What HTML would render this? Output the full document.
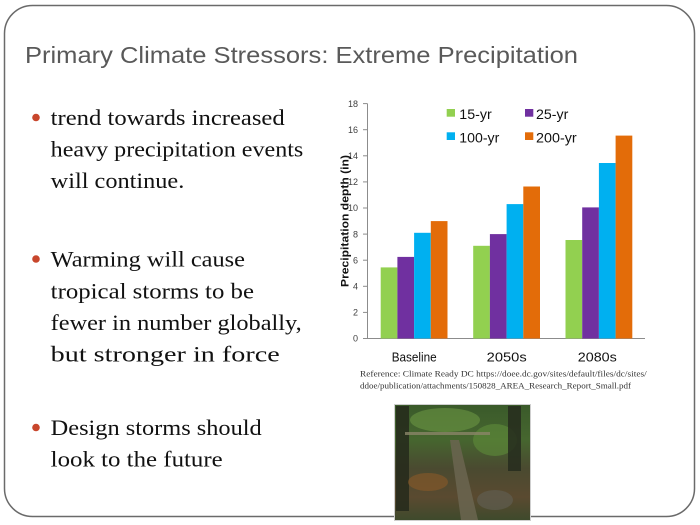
<!DOCTYPE html>
<html>
<head>
<meta charset="utf-8">
<style>
html,body{margin:0;padding:0;background:#fff;}
svg{display:block;}
</style>
</head>
<body>
<svg width="700" height="525" viewBox="0 0 700 525" xmlns="http://www.w3.org/2000/svg">
  <rect x="0" y="0" width="700" height="525" fill="#ffffff"/>
  <!-- slide border -->
  <rect x="4.5" y="5.5" width="690" height="511" rx="28" ry="28" fill="none" stroke="#6a6a6a" stroke-width="1.5"/>

  <!-- title -->
  <text x="25" y="63" font-family="Liberation Sans, sans-serif" font-size="23" fill="#595959" textLength="553" lengthAdjust="spacingAndGlyphs">Primary Climate Stressors: Extreme Precipitation</text>

  <!-- bullets -->
  <g fill="#c8462c">
    <circle cx="36" cy="117.5" r="3.8"/>
    <circle cx="36" cy="259" r="3.8"/>
    <circle cx="36" cy="427.5" r="3.8"/>
  </g>
  <g font-family="Liberation Serif, serif" font-size="22" fill="#111111">
    <text x="50.7" y="125" textLength="234" lengthAdjust="spacingAndGlyphs">trend towards increased</text>
    <text x="50.7" y="156.6" textLength="252.6" lengthAdjust="spacingAndGlyphs">heavy precipitation events</text>
    <text x="50.7" y="188.2" textLength="133.6" lengthAdjust="spacingAndGlyphs">will continue.</text>
    <text x="50.7" y="266.7" textLength="194.3" lengthAdjust="spacingAndGlyphs">Warming will cause</text>
    <text x="50.7" y="298.3" textLength="203.3" lengthAdjust="spacingAndGlyphs">tropical storms to be</text>
    <text x="50.7" y="330" textLength="251" lengthAdjust="spacingAndGlyphs">fewer in number globally,</text>
    <text x="50.7" y="361.6" textLength="229" lengthAdjust="spacingAndGlyphs">but stronger in force</text>
    <text x="50.7" y="435" textLength="211" lengthAdjust="spacingAndGlyphs">Design storms should</text>
    <text x="50.7" y="466.7" textLength="172" lengthAdjust="spacingAndGlyphs">look to the future</text>
  </g>

  <!-- chart axes -->
  <line x1="367.5" y1="103.6" x2="367.5" y2="338.5" stroke="#8c8c8c" stroke-width="1"/>
  <line x1="363" y1="338.5" x2="645" y2="338.5" stroke="#8c8c8c" stroke-width="1"/>
  <g stroke="#8c8c8c" stroke-width="1">
    <line x1="363" y1="312.4" x2="367.5" y2="312.4"/>
    <line x1="363" y1="286.3" x2="367.5" y2="286.3"/>
    <line x1="363" y1="260.2" x2="367.5" y2="260.2"/>
    <line x1="363" y1="234.1" x2="367.5" y2="234.1"/>
    <line x1="363" y1="208" x2="367.5" y2="208"/>
    <line x1="363" y1="181.9" x2="367.5" y2="181.9"/>
    <line x1="363" y1="155.8" x2="367.5" y2="155.8"/>
    <line x1="363" y1="129.7" x2="367.5" y2="129.7"/>
    <line x1="363" y1="103.6" x2="367.5" y2="103.6"/>
  </g>
  <g font-family="Liberation Sans, sans-serif" font-size="9" fill="#404040" text-anchor="end">
    <text x="358" y="341.7">0</text>
    <text x="358" y="315.6">2</text>
    <text x="358" y="289.5">4</text>
    <text x="358" y="263.4">6</text>
    <text x="358" y="237.3">8</text>
    <text x="358" y="211.2">10</text>
    <text x="358" y="185.1">12</text>
    <text x="358" y="159">14</text>
    <text x="358" y="132.9">16</text>
    <text x="358" y="106.8">18</text>
  </g>
  <text transform="translate(348.5,221) rotate(-90)" font-family="Liberation Sans, sans-serif" font-size="11" font-weight="bold" fill="#111" text-anchor="middle" textLength="132" lengthAdjust="spacingAndGlyphs">Precipitation depth (in)</text>

  <!-- bars: y(v) = 338.5 - 13.05 v -->
  <rect x="380.7" y="267.4" width="16.7" height="71.1" fill="#92d050"/>
  <rect x="397.4" y="256.9" width="16.7" height="81.6" fill="#7030a0"/>
  <rect x="414.1" y="232.8" width="16.7" height="105.7" fill="#00b0f0"/>
  <rect x="430.8" y="221.1" width="16.7" height="117.4" fill="#e36c09"/>

  <rect x="473.2" y="245.8" width="16.7" height="92.7" fill="#92d050"/>
  <rect x="489.9" y="234.1" width="16.7" height="104.4" fill="#7030a0"/>
  <rect x="506.6" y="204.1" width="16.7" height="134.4" fill="#00b0f0"/>
  <rect x="523.3" y="186.5" width="16.7" height="152" fill="#e36c09"/>

  <rect x="565.5" y="240" width="16.7" height="98.5" fill="#92d050"/>
  <rect x="582.2" y="207.4" width="16.7" height="131.1" fill="#7030a0"/>
  <rect x="598.9" y="163" width="16.7" height="175.5" fill="#00b0f0"/>
  <rect x="615.6" y="135.6" width="16.7" height="202.9" fill="#e36c09"/>

  <!-- category labels -->
  <g font-family="Liberation Sans, sans-serif" font-size="12.5" fill="#111" text-anchor="middle">
    <text x="414.2" y="361.5" textLength="45" lengthAdjust="spacingAndGlyphs">Baseline</text>
    <text x="506.7" y="361.5" textLength="40" lengthAdjust="spacingAndGlyphs">2050s</text>
    <text x="597.3" y="361.5" textLength="39" lengthAdjust="spacingAndGlyphs">2080s</text>
  </g>

  <!-- legend -->
  <rect x="446.7" y="109" width="8.3" height="7.7" fill="#92d050"/>
  <rect x="525" y="109" width="8.3" height="7.7" fill="#7030a0"/>
  <rect x="446.7" y="132.3" width="8.3" height="7.7" fill="#00b0f0"/>
  <rect x="525" y="132.3" width="8.3" height="7.7" fill="#e36c09"/>
  <g font-family="Liberation Sans, sans-serif" font-size="13.5" fill="#111">
    <text x="459.3" y="119" textLength="32.4" lengthAdjust="spacingAndGlyphs">15-yr</text>
    <text x="536" y="119" textLength="32.3" lengthAdjust="spacingAndGlyphs">25-yr</text>
    <text x="459.3" y="142.7" textLength="40" lengthAdjust="spacingAndGlyphs">100-yr</text>
    <text x="536" y="142.7" textLength="40.7" lengthAdjust="spacingAndGlyphs">200-yr</text>
  </g>

  <!-- reference -->
  <g font-family="Liberation Serif, serif" font-size="8.2" fill="#333">
    <text x="360" y="376.5" textLength="286.7" lengthAdjust="spacingAndGlyphs">Reference: Climate Ready DC https://doee.dc.gov/sites/default/files/dc/sites/</text>
    <text x="360" y="388.3" textLength="271" lengthAdjust="spacingAndGlyphs">ddoe/publication/attachments/150828_AREA_Research_Report_Small.pdf</text>
  </g>

  <!-- photo -->
  <defs>
    <linearGradient id="pg" x1="0" y1="0" x2="0" y2="1">
      <stop offset="0" stop-color="#3a5a2a"/>
      <stop offset="0.3" stop-color="#46662f"/>
      <stop offset="0.55" stop-color="#4a4a30"/>
      <stop offset="0.8" stop-color="#5a4a30"/>
      <stop offset="1" stop-color="#3e4a2c"/>
    </linearGradient>
  </defs>
  <rect x="394.5" y="404.5" width="136" height="116" fill="url(#pg)" stroke="#cfcfcf" stroke-width="1"/>
  <ellipse cx="445" cy="420" rx="35" ry="12" fill="#6f9b45" opacity="0.55"/>
  <ellipse cx="495" cy="440" rx="22" ry="16" fill="#5f8c3a" opacity="0.6"/>
  <rect x="396" y="406" width="13" height="105" fill="#25291b" opacity="0.85"/>
  <rect x="508" y="406" width="13" height="65" fill="#262b1d" opacity="0.85"/>
  <rect x="405" y="432" width="85" height="3" fill="#8a8468" opacity="0.8"/>
  <polygon points="450,440 459,440 478,520 461,520" fill="#6b6550" opacity="0.85"/>
  <ellipse cx="428" cy="482" rx="20" ry="9" fill="#8a5a28" opacity="0.6"/>
  <ellipse cx="495" cy="500" rx="18" ry="10" fill="#5f5d50" opacity="0.7"/>
</svg>
</body>
</html>
